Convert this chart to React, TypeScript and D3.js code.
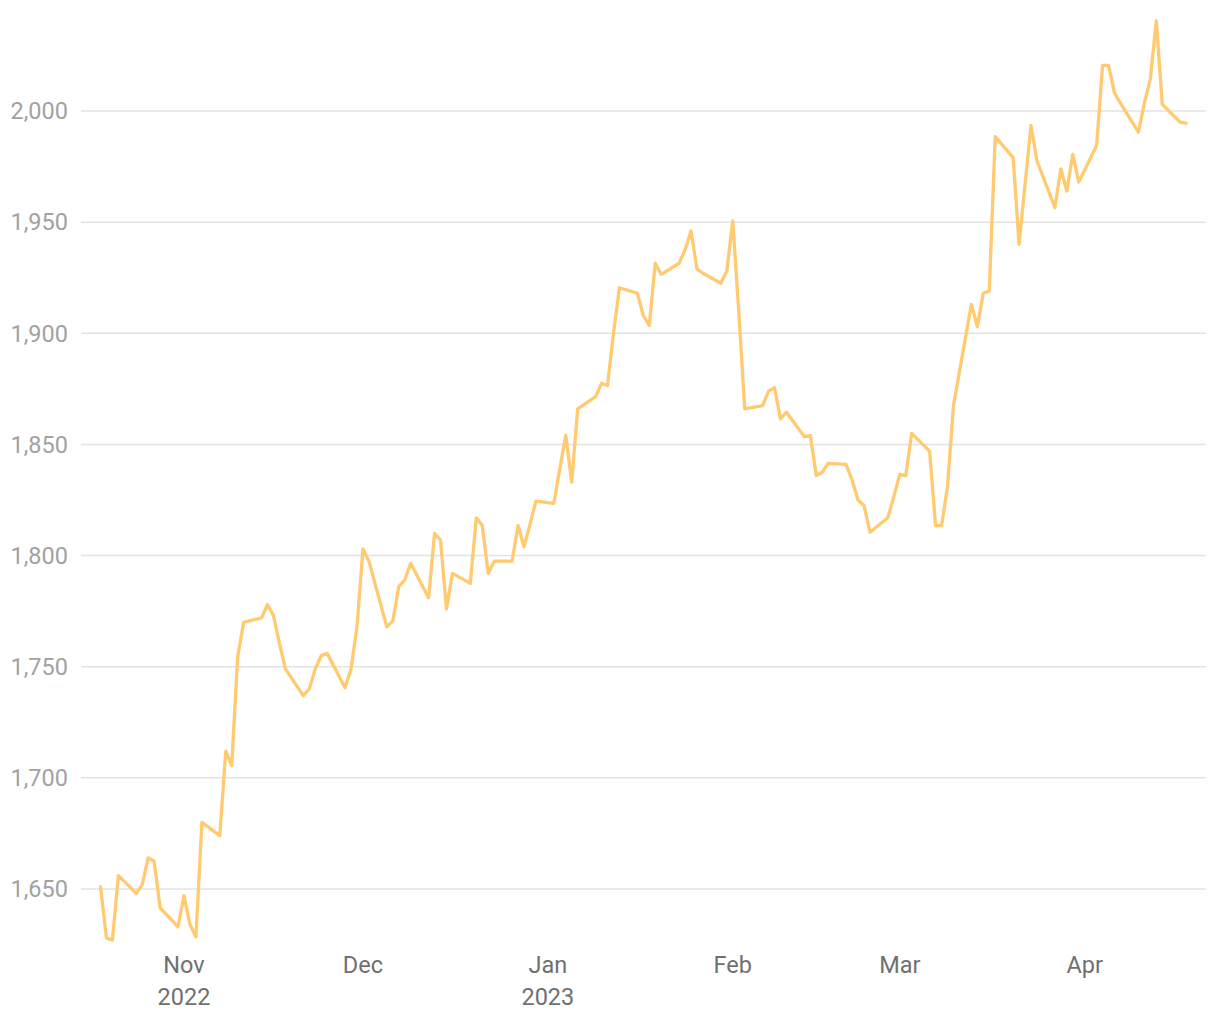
import React from "react";
import * as d3 from "d3";

const dates: string[] = [
  "2022-10-18","2022-10-19","2022-10-20","2022-10-21",
  "2022-10-24","2022-10-25","2022-10-26","2022-10-27","2022-10-28",
  "2022-10-31","2022-11-01","2022-11-02","2022-11-03","2022-11-04",
  "2022-11-07","2022-11-08","2022-11-09","2022-11-10","2022-11-11",
  "2022-11-14","2022-11-15","2022-11-16","2022-11-17","2022-11-18",
  "2022-11-21","2022-11-22","2022-11-23","2022-11-24","2022-11-25",
  "2022-11-28","2022-11-29","2022-11-30","2022-12-01","2022-12-02",
  "2022-12-05","2022-12-06","2022-12-07","2022-12-08","2022-12-09",
  "2022-12-12","2022-12-13","2022-12-14","2022-12-15","2022-12-16",
  "2022-12-19","2022-12-20","2022-12-21","2022-12-22","2022-12-23",
  "2022-12-26","2022-12-27","2022-12-28","2022-12-29","2022-12-30",
  "2023-01-02","2023-01-03","2023-01-04","2023-01-05","2023-01-06",
  "2023-01-09","2023-01-10","2023-01-11","2023-01-12","2023-01-13",
  "2023-01-16","2023-01-17","2023-01-18","2023-01-19","2023-01-20",
  "2023-01-23","2023-01-24","2023-01-25","2023-01-26","2023-01-27",
  "2023-01-30","2023-01-31","2023-02-01","2023-02-02","2023-02-03",
  "2023-02-06","2023-02-07","2023-02-08","2023-02-09","2023-02-10",
  "2023-02-13","2023-02-14","2023-02-15","2023-02-16","2023-02-17",
  "2023-02-20","2023-02-21","2023-02-22","2023-02-23","2023-02-24",
  "2023-02-27","2023-02-28","2023-03-01","2023-03-02","2023-03-03",
  "2023-03-06","2023-03-07","2023-03-08","2023-03-09","2023-03-10",
  "2023-03-13","2023-03-14","2023-03-15","2023-03-16","2023-03-17",
  "2023-03-20","2023-03-21","2023-03-22","2023-03-23","2023-03-24",
  "2023-03-27","2023-03-28","2023-03-29","2023-03-30","2023-03-31",
  "2023-04-03","2023-04-04","2023-04-05","2023-04-06","2023-04-07",
  "2023-04-10","2023-04-11","2023-04-12","2023-04-13","2023-04-14",
  "2023-04-17","2023-04-18",
];

const prices: number[] = [
  1651, 1628, 1627, 1656,
  1648, 1652, 1664, 1662.5, 1641.5,
  1633, 1647, 1634, 1628.5, 1680,
  1674, 1712, 1705.5, 1754.5, 1770,
  1772, 1778, 1773, 1760.5, 1749,
  1737, 1740, 1749, 1755, 1756,
  1740.5, 1749, 1768, 1803, 1797.5,
  1768, 1770.5, 1786, 1789, 1796.5,
  1781, 1810, 1807, 1776, 1792,
  1787.5, 1817, 1813.5, 1792, 1797.5,
  1797.5, 1813.5, 1804, 1814, 1824.5,
  1823.5, 1839, 1854, 1833, 1866,
  1871.5, 1877.5, 1876.5, 1900, 1920.5,
  1918, 1908, 1903.5, 1931.5, 1926.5,
  1931.5, 1937.5, 1946, 1929, 1927,
  1922.5, 1928, 1950.5, 1910, 1866,
  1867.5, 1874, 1875.5, 1861.5, 1864.5,
  1853.5, 1854, 1836, 1837.5, 1841.5,
  1841, 1834, 1825, 1822.5, 1810.5,
  1817, 1826.5, 1836.5, 1836, 1855,
  1847, 1813.5, 1813.5, 1831, 1867.5,
  1913, 1903, 1918, 1919, 1988.5,
  1979, 1940, 1967, 1993.5, 1977.5,
  1956.5, 1974, 1964, 1980.5, 1968,
  1984.5, 2020.5, 2020.5, 2008, 2003.5,
  1990.5, 2003.5, 2014.5, 2040.5, 2003,
  1995, 1994.5,
];

const yTicks: number[] = [1650, 1700, 1750, 1800, 1850, 1900, 1950, 2000];
const xTickDates: string[] = ["2022-11-01","2022-12-01","2023-01-01","2023-02-01","2023-03-01","2023-04-01"];
const xTickMonths: string[] = ["Nov","Dec","Jan","Feb","Mar","Apr"];
const xTickYears: string[] = ["2022","","2023","","",""];

const parse = d3.utcParse("%Y-%m-%d");

export default function App() {
  const W = 1220, H = 1020;
  const x = d3.scaleUtc()
    .domain([parse("2022-11-01")!, parse("2023-04-01")!])
    .range([184, 1084.7]);
  const y = d3.scaleLinear().domain([1650, 2000]).range([889, 111]);
  const pts = dates.map((d, i) => ({ t: parse(d)!, v: prices[i] }));
  const line = d3.line<{ t: Date; v: number }>()
    .x((d) => x(d.t))
    .y((d) => y(d.v));
  const fmt = d3.format(",");
  return (
    <svg width={W} height={H} style={{ position: "absolute", left: 0, top: 0, background: "#fff" }}
      fontFamily="Roboto, sans-serif">
      {yTicks.map((t) => (
        <g key={t}>
          <line x1={81} x2={1206} y1={y(t)} y2={y(t)} stroke="#e3e3e3" strokeWidth={1.5} />
          <text x={68} y={y(t)} dy="0.35em" textAnchor="end" fontSize={23.5} fill="#a2a2a2">{fmt(t)}</text>
        </g>
      ))}
      {xTickDates.map((d, i) => {
        const px = x(parse(d)!);
        return (
          <g key={d}>
            <text x={px} y={973} textAnchor="middle" fontSize={23.5} fill="#707070">{xTickMonths[i]}</text>
            {xTickYears[i] && (
              <text x={px} y={1005} textAnchor="middle" fontSize={23.5} fill="#707070">{xTickYears[i]}</text>
            )}
          </g>
        );
      })}
      <path d={line(pts) || ""} fill="none" stroke="#ffca70" strokeWidth={3.3} strokeLinejoin="round" strokeLinecap="round" />
    </svg>
  );
}
